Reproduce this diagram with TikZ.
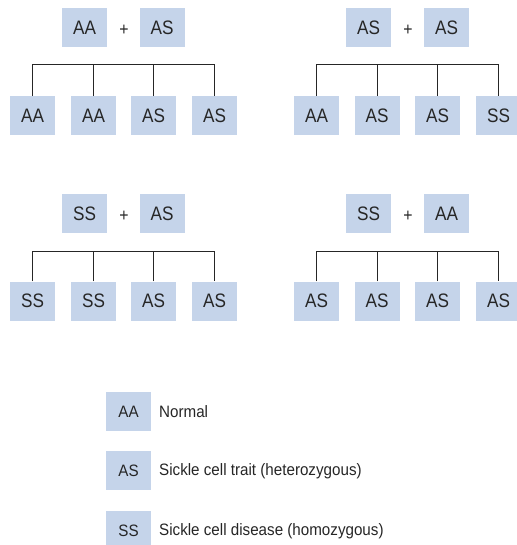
\documentclass[tikz,border=0pt]{standalone}
\usepackage{fontspec}
\setmainfont{Liberation Sans}
\newfontfamily\narrowfont[FakeStretch=0.88]{Liberation Sans}
\newfontfamily\legfont[FakeStretch=0.92]{Liberation Sans}
\definecolor{boxblue}{RGB}{197,212,234}
\tikzset{
  gbox/.style={fill=boxblue, minimum width=45pt, minimum height=39pt, inner sep=0pt,
    font=\narrowfont\fontsize{19.5}{21}\selectfont, text=black!85},
  lbox/.style={fill=boxblue, minimum width=45pt, minimum height=39pt, inner sep=0pt,
    font=\legfont\fontsize{16.5}{18}\selectfont, text=black!85},
  plus/.style={font=\narrowfont\fontsize{18}{20}\selectfont, text=black!85, inner sep=0pt},
  ltext/.style={anchor=west, inner sep=0pt, font=\legfont\fontsize{16.5}{18}\selectfont, text=black!85},
  tline/.style={draw=black!85, line width=0.9pt}
}
\begin{document}
\begin{tikzpicture}[x=1pt,y=-1pt]
\useasboundingbox (0,0) rectangle (516,545);
% ---------- top left: AA + AS ----------
\node[gbox] (p1a) at (84.5,27.5) {AA};
\node[plus] (p1p) at (124,30) {+};
\node[gbox] (p1b) at (162,27.5) {AS};
\node[gbox] (c1a) at (32.5,115.5) {AA};
\node[gbox] (c1b) at (93.5,115.5) {AA};
\node[gbox] (c1c) at (153.5,115.5) {AS};
\node[gbox] (c1d) at (214.5,115.5) {AS};
\coordinate (h1) at (0,64);
\draw[tline] (c1a.north) |- (c1d.north |- h1) -- (c1d.north);
\draw[tline] (c1b.north) -- (c1b.north |- h1);
\draw[tline] (c1c.north) -- (c1c.north |- h1);
% ---------- top right: AS + AS ----------
\node[gbox] (p2a) at (368.5,27.5) {AS};
\node[plus] (p2p) at (408,30) {+};
\node[gbox] (p2b) at (446.5,27.5) {AS};
\node[gbox] (c2a) at (316.5,115.5) {AA};
\node[gbox] (c2b) at (377,115.5) {AS};
\node[gbox] (c2c) at (437.5,115.5) {AS};
\node[gbox] (c2d) at (498.5,115.5) {SS};
\coordinate (h2) at (0,64);
\draw[tline] (c2a.north) |- (c2d.north |- h2) -- (c2d.north);
\draw[tline] (c2b.north) -- (c2b.north |- h2);
\draw[tline] (c2c.north) -- (c2c.north |- h2);
% ---------- bottom left: SS + AS ----------
\node[gbox] (p3a) at (84.5,213.5) {SS};
\node[plus] (p3p) at (124,216) {+};
\node[gbox] (p3b) at (162,213.5) {AS};
\node[gbox] (c3a) at (32.5,301) {SS};
\node[gbox] (c3b) at (93.5,301) {SS};
\node[gbox] (c3c) at (153.5,301) {AS};
\node[gbox] (c3d) at (214.5,301) {AS};
\coordinate (h3) at (0,251);
\draw[tline] (c3a.north) |- (c3d.north |- h3) -- (c3d.north);
\draw[tline] (c3b.north) -- (c3b.north |- h3);
\draw[tline] (c3c.north) -- (c3c.north |- h3);
% ---------- bottom right: SS + AA ----------
\node[gbox] (p4a) at (368.5,213.5) {SS};
\node[plus] (p4p) at (408,216) {+};
\node[gbox] (p4b) at (446.5,213.5) {AA};
\node[gbox] (c4a) at (316.5,301) {AS};
\node[gbox] (c4b) at (377,301) {AS};
\node[gbox] (c4c) at (437.5,301) {AS};
\node[gbox] (c4d) at (498.5,301) {AS};
\coordinate (h4) at (0,251);
\draw[tline] (c4a.north) |- (c4d.north |- h4) -- (c4d.north);
\draw[tline] (c4b.north) -- (c4b.north |- h4);
\draw[tline] (c4c.north) -- (c4c.north |- h4);
% ---------- legend ----------
\node[lbox] (l1) at (128.5,411.5) {AA};
\node[ltext] (t1) at (159,412) {Normal};
\node[lbox] (l2) at (128.5,470.5) {AS};
\node[ltext] (t2) at (159,471) {Sickle cell trait (heterozygous)};
\node[lbox] (l3) at (128.5,530.5) {SS};
\node[ltext] (t3) at (159,531) {Sickle cell disease (homozygous)};
\end{tikzpicture}
\end{document}
